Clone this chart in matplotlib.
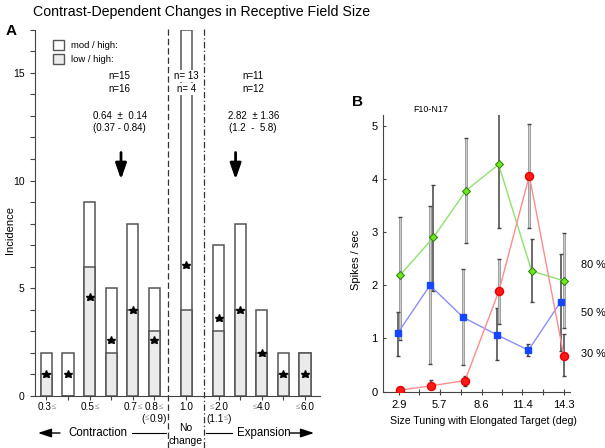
import re
import matplotlib
matplotlib.use("Agg")
import matplotlib.pyplot as plt
import matplotlib.transforms as mtransforms
from matplotlib.patches import Rectangle

plt.rcParams['font.family'] = ['Liberation Sans', 'DejaVu Sans']

# ---------------- Panel A data ----------------
bin_labels = ["0.3≤", "", "0.5≤", "", "0.7≤", "0.8≤", "1.0", "≤2.0", "", "≤4.0", "", "≤6.0"]
sub_labels = ["", "", "", "", "", "(≤0.9)", "", "(1.1≤)", "", "", "", ""]
mod_high = [2, 2, 9, 5, 8, 5, 17, 7, 8, 4, 2, 2]
low_high = [1, 0, 6, 2, 4, 3, 4, 3, 4, 2, 1, 2]
star_y = [1, 1, 4.6, 2.6, 4, 2.6, 6.1, 3.6, 4, 2, 1, 1]
group_n_mod = ["n=15", "n= 13", "n=11"]
group_n_low = ["n=16", "n= 4", "n=12"]
group_mean = ["0.64  ±  0.14", "2.82  ± 1.36"]
group_range = ["(0.37 - 0.84)", "(1.2  -  5.8)"]

# ---------------- Panel B data ----------------
size_ticks = [2.9, 5.7, 8.6, 11.4, 14.3]
x80 = [2.97, 5.28, 7.53, 9.78, 12.06, 14.32]
y80 = [2.19, 2.90, 3.78, 4.27, 2.27, 2.08]
lo80 = [0.97, 1.90, 2.80, 3.07, 1.68, 1.19]
hi80 = [3.28, 3.88, 4.77, 5.46, 2.87, 2.98]
x50 = [2.81, 5.04, 7.32, 9.65, 11.84, 14.07]
y50 = [1.10, 2.00, 1.40, 1.07, 0.78, 1.69]
lo50 = [0.68, 0.52, 0.50, 0.60, 0.67, 0.77]
hi50 = [1.50, 3.49, 2.30, 1.58, 0.90, 2.59]
x30 = [2.97, 5.11, 7.46, 9.81, 11.90, 14.28]
y30 = [0.03, 0.11, 0.21, 1.90, 4.06, 0.68]
lo30 = [0.03, 0.08, 0.10, 1.27, 3.07, 0.29]
hi30 = [0.03, 0.22, 0.30, 2.50, 5.03, 1.08]

W, H = 605, 448
fig = plt.figure(figsize=(W / 100, H / 100), dpi=100)
renderer = fig.canvas.get_renderer()


def fx(px):
    return px / W


def fy(py):
    return 1 - py / H


def seg_text(dx, dy, s, fs, sym_color='#9a9a9a'):
    """Centered text at display coords, with the ≤ sign drawn smaller in gray."""
    parts = [p for p in re.split('(≤)', s) if p]
    ts, ws = [], []
    for p in parts:
        if p == '≤':
            t = fig.text(0, 0, p, color=sym_color, fontsize=fs * 0.8, ha='left', va='center',
                         transform=mtransforms.IdentityTransform())
        else:
            t = fig.text(0, 0, p, color='black', fontsize=fs, ha='left', va='center',
                         transform=mtransforms.IdentityTransform())
        ws.append(t.get_window_extent(renderer).width)
        ts.append(t)
    x0 = dx - sum(ws) / 2
    for t, w in zip(ts, ws):
        t.set_position((x0, dy))
        x0 += w


# ================= Panel A =================
axA = fig.add_axes([fx(35), fy(396), (320 - 35) / W, (396 - 29.7) / H])
bar_pos = [0, 1, 2, 3, 4, 5, 6.5, 8, 9, 10, 11, 12]
edge = '#555555'
axA.bar(bar_pos, mod_high, width=0.52, color='white', edgecolor=edge, linewidth=1.1, zorder=2)
axA.bar(bar_pos, low_high, width=0.52, color='#ebebeb', edgecolor=edge, linewidth=1.1, zorder=3)
axA.plot(bar_pos, star_y, linestyle='none', marker='*', markersize=6.2, color='black', zorder=5)

axA.set_xlim(-0.534, 12.70)
axA.set_ylim(0, 17)
for s in ['top', 'right']:
    axA.spines[s].set_visible(False)
axA.spines['left'].set_color('#444444')
axA.spines['bottom'].set_color('#444444')
axA.set_yticks([0, 5, 10, 15])
axA.set_yticks(range(0, 18), minor=True)
axA.tick_params(axis='y', which='both', direction='out', length=3.5, width=0.8,
                colors='#444444', labelcolor='black', labelsize=7.5, pad=4)
axA.set_xticks(bar_pos)
axA.set_xticklabels([""] * len(bar_pos))
axA.tick_params(axis='x', direction='out', length=3, width=0.8, colors='#444444')

# tick labels with gray ≤
for xp, lab, sub in zip(bar_pos, bin_labels, sub_labels):
    dx = axA.transData.transform((xp, 0))[0]
    if lab:
        seg_text(dx, H - 407, lab, 7.2)
    if sub:
        seg_text(dx, H - 418.5, sub, 7.2)

# separators
axA.plot([5.64, 5.64], [17.05, -2.45], color='#333333', lw=0.9, ls=(0, (5, 2.5)),
         clip_on=False, zorder=1)
axA.plot([7.31, 7.31], [17.05, -2.45], color='#333333', lw=0.9, ls=(0, (5, 2, 1, 2)),
         clip_on=False, zorder=1)

# group annotations
for xp, a, b in zip([3.4, 6.5, 9.6], group_n_mod, group_n_low):
    bbox = dict(facecolor='white', edgecolor='none', pad=0.6) if xp == 6.5 else None
    axA.text(xp, 14.85, a, ha='center', va='center', fontsize=7, bbox=bbox, zorder=6)
    axA.text(xp, 14.25, b, ha='center', va='center', fontsize=7, bbox=bbox, zorder=6)
for xp, a, b in zip([3.4, 9.6], group_mean, group_range):
    axA.text(xp, 13.0, a, ha='center', va='center', fontsize=7)
    axA.text(xp, 12.45, b, ha='center', va='center', fontsize=7)
for xp in [3.46, 8.78]:
    axA.annotate('', xy=(xp, 10.05), xytext=(xp, 11.3),
                 arrowprops=dict(arrowstyle='-|>,head_length=0.95,head_width=0.33',
                                 lw=2.0, color='black', mutation_scale=10, shrinkA=0, shrinkB=0))

# legend
fig.patches.append(Rectangle((fx(53), fy(50)), 11 / W, 10 / H, transform=fig.transFigure,
                             facecolor='white', edgecolor=edge, lw=1.0))
fig.patches.append(Rectangle((fx(53), fy(64.5)), 11 / W, 10 / H, transform=fig.transFigure,
                             facecolor='#ebebeb', edgecolor=edge, lw=1.0))
fig.text(fx(71), fy(45), "mod / high:", fontsize=6.8, va='center', ha='left')
fig.text(fx(71), fy(59.5), "low / high:", fontsize=6.8, va='center', ha='left')

fig.text(fx(10), fy(230), "Incidence", fontsize=8, rotation=90, ha='center', va='center')

fig.text(fx(33), fy(12), "Contrast-Dependent Changes in Receptive Field Size",
         fontsize=10.2, ha='left', va='center')
fig.text(fx(11), fy(31), "A", fontsize=11, fontweight='bold', ha='center', va='center')

# bottom row
fig.text(fx(98), fy(433), "Contraction", fontsize=8.3, ha='center', va='center')
fig.text(fx(264), fy(433), "Expansion", fontsize=8.3, ha='center', va='center')
fig.text(fx(186), fy(428), "No", fontsize=7.5, ha='center', va='center')
fig.text(fx(186), fy(441), "change", fontsize=7.5, ha='center', va='center')
arr = dict(arrowstyle='-|>,head_length=0.9,head_width=0.3', lw=1.0, color='black',
           mutation_scale=9, shrinkA=0, shrinkB=0)
fig.add_artist(matplotlib.patches.FancyArrowPatch((fx(60), fy(433)), (fx(38), fy(433)),
                                                  transform=fig.transFigure, **arr))
fig.add_artist(matplotlib.patches.FancyArrowPatch((fx(290), fy(433)), (fx(314), fy(433)),
                                                  transform=fig.transFigure, **arr))
fig.add_artist(matplotlib.lines.Line2D([fx(132), fx(166)], [fy(433), fy(433)],
                                       transform=fig.transFigure, color='black', lw=0.8))
fig.add_artist(matplotlib.lines.Line2D([fx(206), fx(232)], [fy(433), fy(433)],
                                       transform=fig.transFigure, color='black', lw=0.8))

# ================= Panel B =================
axB = fig.add_axes([fx(383), fy(391.7), (570 - 383) / W, (391.7 - 115) / H])
axB.set_xlim(1.794, 14.71)
axB.set_ylim(0, 5.2)

light = [True, False, True, False, False, True]
light50 = [False, True, True, False, False, False]
light30 = [False, False, False, True, True, False]


def draw_err(xs, lo, hi, lights):
    for x, l, h, lt in zip(xs, lo, hi, lights):
        if h - l < 1e-6:
            continue
        if lt:
            axB.plot([x, x], [l, h], color='#8a8a8a', lw=2.0, solid_capstyle='butt', zorder=2)
            axB.plot([x, x], [l, h], color='#cccccc', lw=1.0, solid_capstyle='butt', zorder=2)
        else:
            axB.plot([x, x], [l, h], color='#6a6a6a', lw=1.4, solid_capstyle='butt', zorder=2)
        axB.plot([x, x], [l, h], linestyle='none', marker='_', markersize=3.2,
                 markeredgewidth=1.0, color='#444444', zorder=2)


draw_err(x80, lo80, hi80, light)
draw_err(x50, lo50, hi50, light50)
draw_err(x30, lo30, hi30, light30)

axB.plot(x80, y80, color='#8ee070', lw=1.0, zorder=3)
axB.plot(x80, y80, linestyle='none', marker='D', markersize=4.2, markerfacecolor='#6ee81a',
         markeredgecolor='#2d7a12', markeredgewidth=0.7, zorder=4)
axB.plot(x50, y50, color='#8c8cff', lw=1.0, zorder=3)
axB.plot(x50, y50, linestyle='none', marker='s', markersize=4.2, markerfacecolor='#1447ff',
         markeredgecolor='#1447ff', zorder=4)
axB.plot(x30, y30, color='#ff8c8c', lw=1.0, zorder=3)
axB.plot(x30, y30, linestyle='none', marker='o', markersize=5.8, markerfacecolor='#ff1a1a',
         markeredgecolor='#e80000', zorder=4)

for s in ['top', 'right']:
    axB.spines[s].set_visible(False)
axB.spines['left'].set_color('#444444')
axB.spines['bottom'].set_color('#444444')
axB.set_xticks(size_ticks)
axB.set_xticklabels([f"{v:.1f}" for v in size_ticks])
axB.set_xticks([4.3, 7.15, 10.0, 12.85], minor=True)
axB.tick_params(axis='x', which='both', direction='inout', length=4, width=0.8,
                colors='#444444', labelcolor='black', labelsize=8, pad=4)
axB.set_yticks([0, 1, 2, 3, 4, 5])
axB.tick_params(axis='y', direction='in', length=2.5, width=0.8, colors='#444444',
                labelcolor='black', labelsize=8, pad=4)

fig.text(fx(356), fy(260), "Spikes / sec", fontsize=8, rotation=90, ha='center', va='center')
fig.text(fx(483), fy(421), "Size Tuning with Elongated Target (deg)", fontsize=7.6,
         ha='center', va='center')
fig.text(fx(431), fy(110), "F10-N17", fontsize=6.4, ha='center', va='center')
fig.text(fx(357), fy(102), "B", fontsize=11, fontweight='bold', ha='center', va='center')
for lab, py in zip(["80 %", "50 %", "30 %"], [265, 313, 354]):
    fig.text(fx(581), fy(py), lab, fontsize=7.8, ha='left', va='center')

fig.savefig("out.png", dpi=100)
